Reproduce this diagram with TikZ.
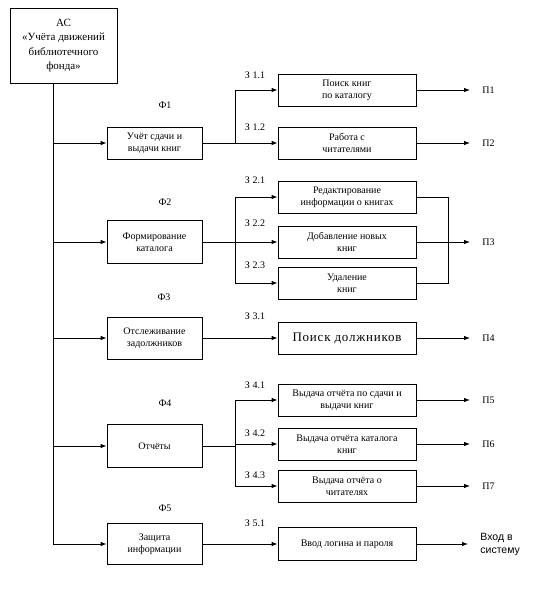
\documentclass[tikz,border=0pt]{standalone}
\usepackage{fontspec}
\setmainfont{Liberation Serif}
\setsansfont{Liberation Sans}
\usetikzlibrary{arrows.meta}

\begin{document}
\begin{tikzpicture}[x=1pt, y=-1pt, line width=0.8pt,
    box/.style={draw, align=center, inner sep=1pt, font=\fontsize{10}{12}\selectfont},
    fbox/.style={box, minimum width=95pt},
    tbox/.style={box, minimum width=138pt, minimum height=32pt},
    arr/.style={-{Latex[length=6pt,width=4.5pt]}},
    lbl/.style={font=\fontsize{10}{12}\selectfont},
    outlbl/.style={lbl, anchor=west, inner xsep=12pt, inner ysep=0pt}]
    \useasboundingbox (0,0) rectangle (546,610);

    % system
    \node[box, minimum width=107pt, minimum height=75pt, font=\fontsize{11}{14.5}\selectfont] (ac) at (63.5,45.5)
        {АС\\«Учёта движений\\библиотечного\\фонда»};
    \coordinate (trunk) at (53,83);

    % functions
    \node[fbox, minimum height=32pt] (f1) at (154.5,143) {Учёт сдачи и\\выдачи книг};
    \node[fbox, minimum height=43pt] (f2) at (154.5,242) {Формирование\\каталога};
    \node[fbox, minimum height=42pt] (f3) at (154.5,338) {Отслеживание\\задолжников};
    \node[fbox, minimum height=43pt] (f4) at (154.5,446) {Отчёты};
    \node[fbox, minimum height=41pt] (f5) at (154.5,544) {Защита\\информации};

    \node[lbl] (l1) at (165,105) {Ф1};
    \node[lbl] (l2) at (165,202) {Ф2};
    \node[lbl] (l3) at (164,297) {Ф3};
    \node[lbl] (l4) at (165,403) {Ф4};
    \node[lbl] (l5) at (165,508) {Ф5};

    \draw[arr] (trunk) |- (f5.west);
    \foreach \f in {f1,f2,f3,f4}
        \draw[arr] (trunk |- \f.west) -- (\f.west);

    % tasks
    \node[tbox] (r11) at (347,90) {Поиск книг\\по каталогу};
    \node[tbox] (r12) at (347,143) {Работа с\\читателями};
    \node[tbox] (r21) at (347,197) {Редактирование\\информации о книгах};
    \node[tbox] (r22) at (347,242) {Добавление новых\\книг};
    \node[tbox] (r23) at (347,283) {Удаление\\книг};
    \node[tbox, font=\fontsize{13}{15}\selectfont\addfontfeature{LetterSpace=6}] (r31) at (347,338) {Поиск должников};
    \node[tbox] (r41) at (347,400) {Выдача отчёта по сдачи и\\выдачи книг};
    \node[tbox] (r42) at (347,444) {Выдача отчёта каталога\\книг};
    \node[tbox] (r43) at (347,486) {Выдача отчёта о\\читателях};
    \node[tbox, minimum height=33pt] (r51) at (347,544) {Ввод логина и пароля};

    \node[lbl] (z11) at (255,75) {З 1.1};
    \node[lbl] (z12) at (255,127) {З 1.2};
    \node[lbl] (z21) at (255,180) {З 2.1};
    \node[lbl] (z22) at (255,223) {З 2.2};
    \node[lbl] (z23) at (255,265) {З 2.3};
    \node[lbl] (z31) at (255,316) {З 3.1};
    \node[lbl] (z41) at (255,385) {З 4.1};
    \node[lbl] (z42) at (255,433) {З 4.2};
    \node[lbl] (z43) at (255,475) {З 4.3};
    \node[lbl] (z51) at (255,523) {З 5.1};

    \coordinate (j1) at (235,143);
    \coordinate (j2) at (235,242);
    \coordinate (j4) at (235,446);
    \draw (f1.east) -- (j1);
    \draw (f2.east) -- (j2);
    \draw (f4.east) -- (j4);
    \foreach \r in {r11,r12}
        \draw[arr] (j1) |- (\r.west);
    \foreach \r in {r21,r22,r23}
        \draw[arr] (j2) |- (\r.west);
    \foreach \r in {r41,r42,r43}
        \draw[arr] (j4) |- (\r.west);
    \draw[arr] (f3.east) -- (r31.west);
    \draw[arr] (f5.east) -- (r51.west);

    % results
    \node[outlbl] (p1) at (470,90) {П1};
    \node[outlbl] (p2) at (470,143) {П2};
    \node[outlbl] (p3) at (470,242) {П3};
    \node[outlbl] (p4) at (470,338) {П4};
    \node[outlbl] (p5) at (470,400) {П5};
    \node[outlbl] (p6) at (470,444) {П6};
    \node[outlbl] (p7) at (470,486) {П7};
    \node[outlbl, align=left, font=\sffamily\fontsize{10.5}{13}\selectfont] (p8) at (468,544) {Вход в\\систему};

    \coordinate (m2) at (448,242);
    \draw (r21.east) -| (m2);
    \draw (r23.east) -| (m2);
    \foreach \r/\p in {r11/p1,r12/p2,r22/p3,r31/p4,r41/p5,r42/p6,r43/p7,r51/p8}
        \draw[arr] (\r.east) -- (\p.west);
\end{tikzpicture}
\end{document}
